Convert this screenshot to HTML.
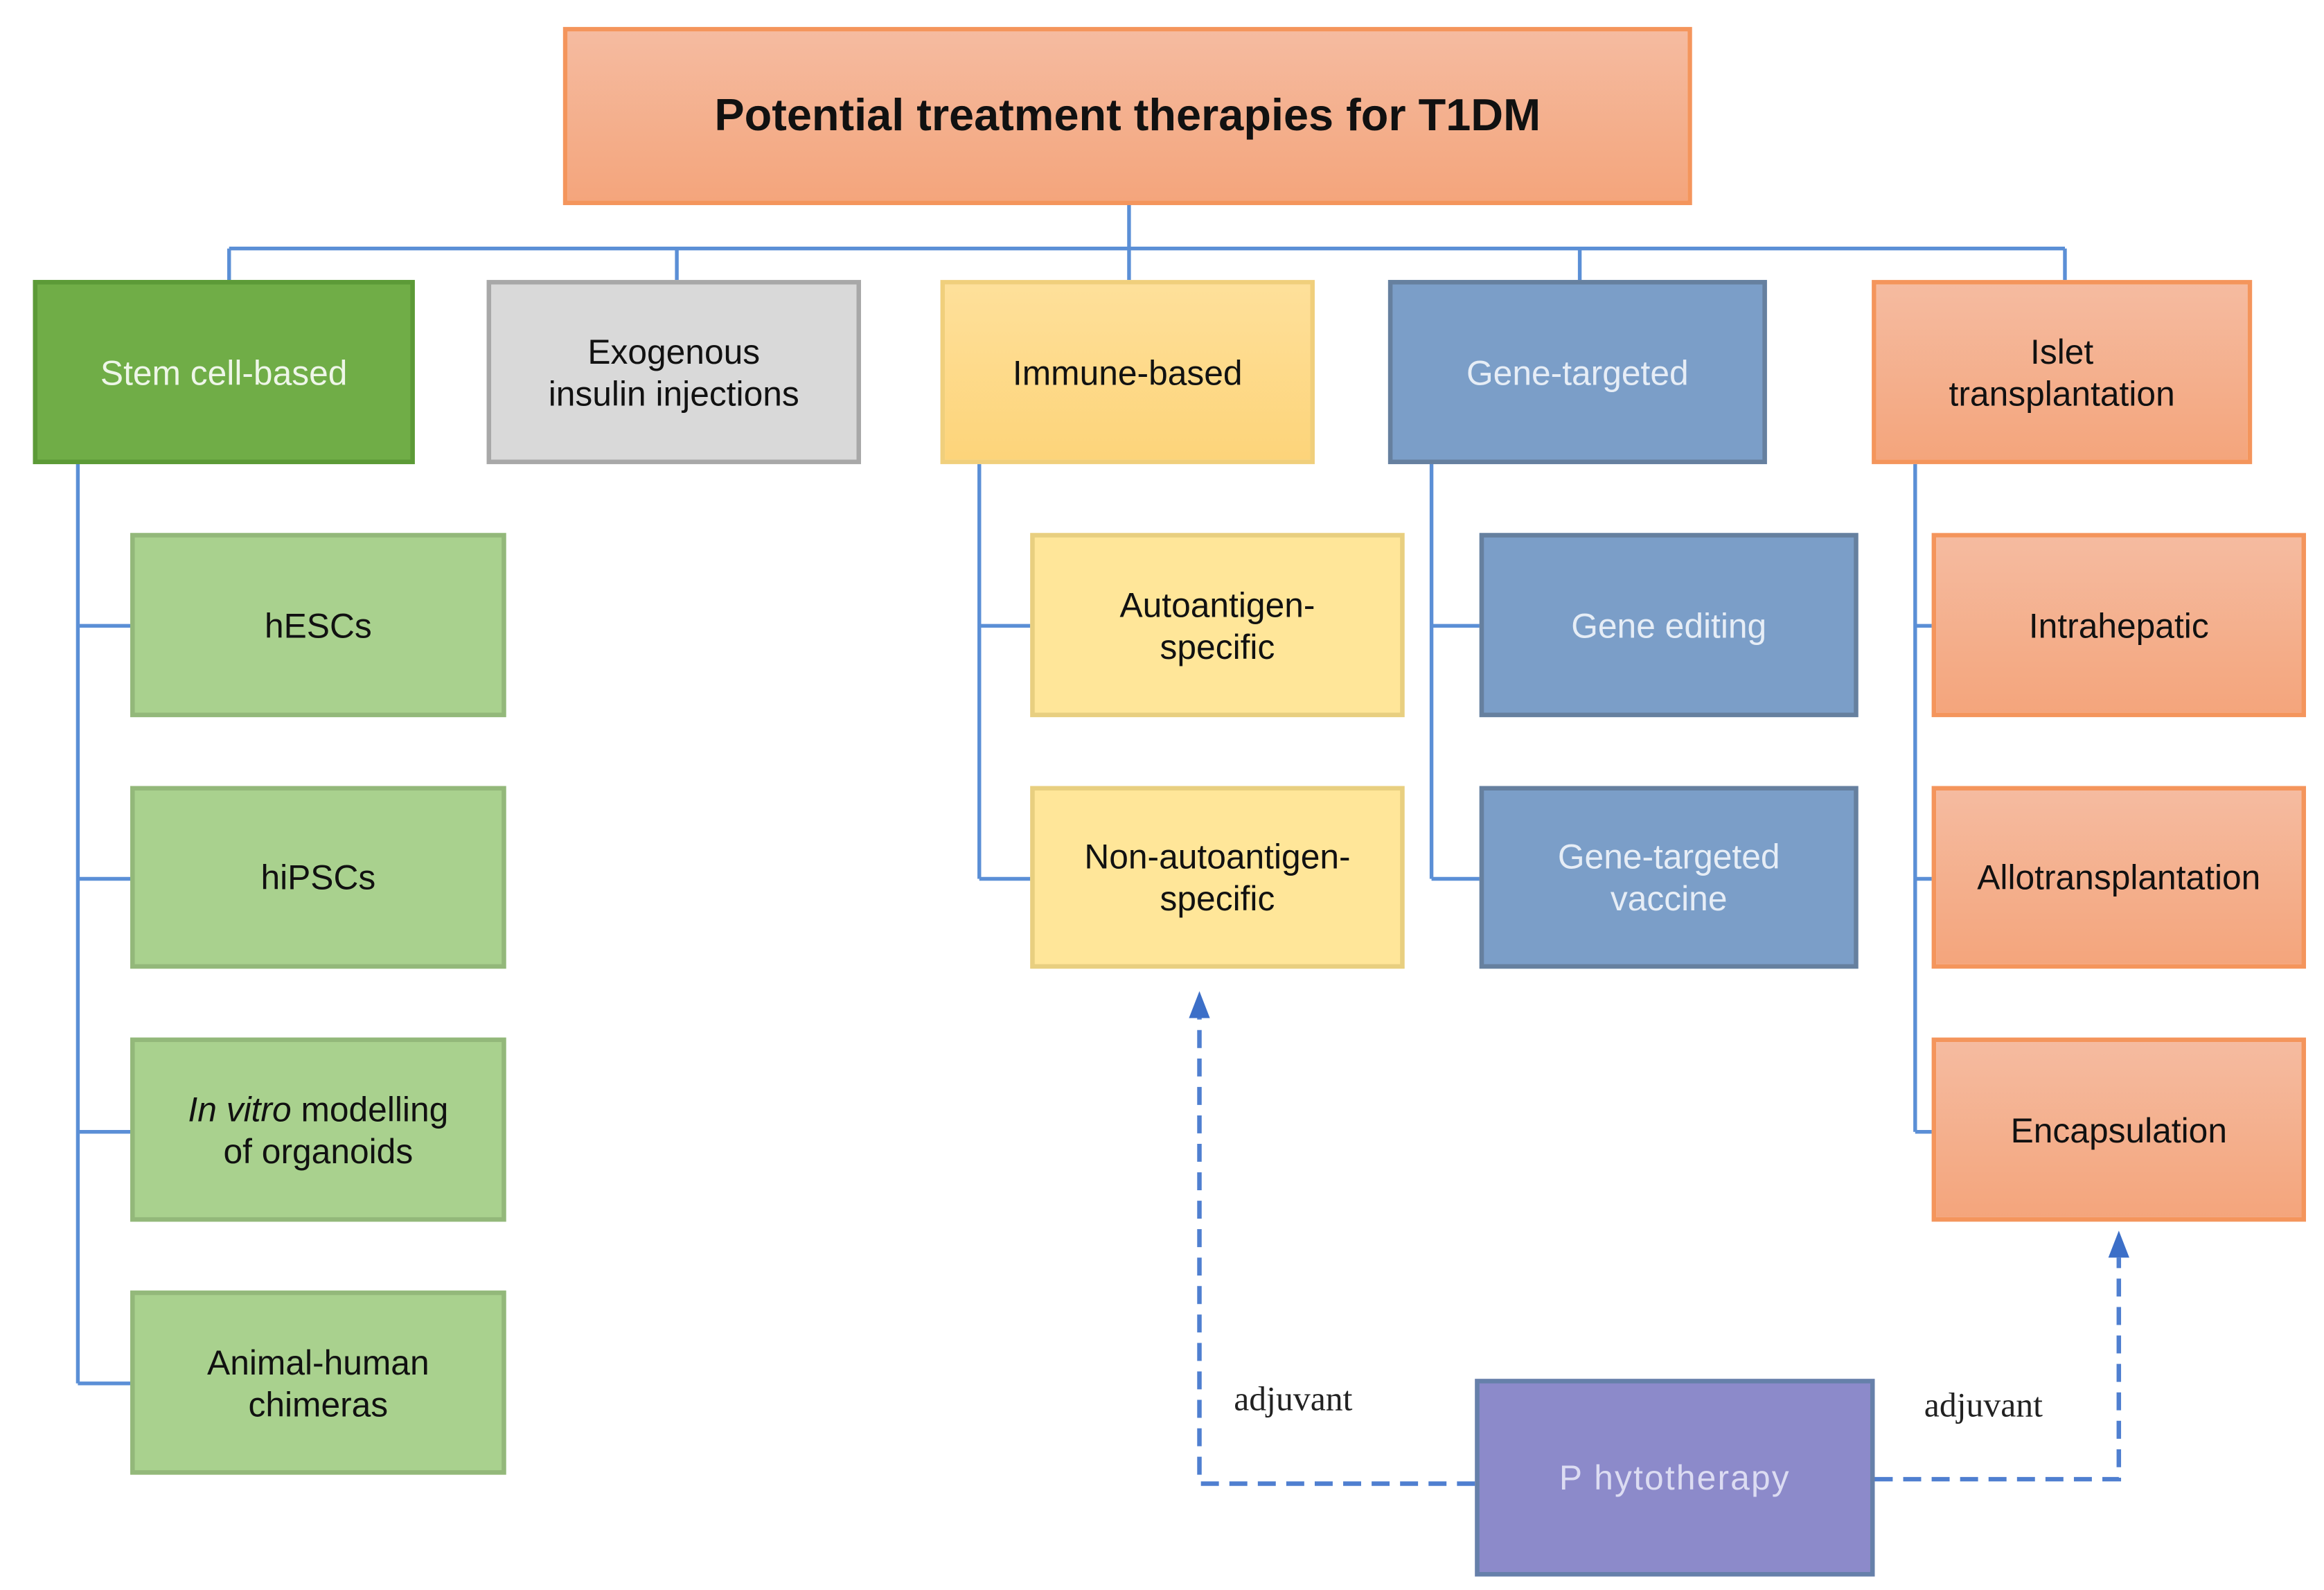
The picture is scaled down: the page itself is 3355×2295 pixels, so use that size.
<!DOCTYPE html>
<html><head><meta charset="utf-8"><style>
html,body{margin:0;padding:0;background:#fff;}
body{width:3355px;height:2295px;overflow:hidden;position:relative;}
#c{position:absolute;left:0;top:0;width:1552px;height:1062px;transform:scale(2.1617,2.161);transform-origin:0 0;font-family:"Liberation Sans",sans-serif;}
.b{position:absolute;box-sizing:border-box;display:flex;align-items:center;justify-content:center;text-align:center;font-size:23px;line-height:28px;color:#111;}
.g1{background:#70ad47;border:3px solid #5c9a37;color:#eef6e8;}
.gr{background:#d9d9d9;border:3px solid #a8a8a8;}
.y1{background:linear-gradient(#fee09a,#fdd47a);border:3px solid #f0cf7c;}
.bl{background:#7b9ec8;border:3px solid #66809f;color:#e6edf6;}
.or{background:linear-gradient(#f5bba0,#f4a57c);border:3px solid #f4955c;}
.g2{background:#a9d18e;border:3px solid #93b87a;}
.y2{background:#ffe699;border:3px solid #e8cf80;}
.pu{background:#8c8aca;border:3px solid #6680aa;color:#dcdcf2;letter-spacing:1px;}
.lab{position:absolute;font-family:"Liberation Serif",serif;font-size:23px;color:#222;}
</style></head><body><div id="c">
<svg width="1552" height="1062" style="position:absolute;left:0;top:0">
<g stroke="#5b8fd6" stroke-width="2.5" fill="none">
<path d="M754 137V187M153 166H1379M153 166V187M452 166V187M1055 166V187M1379 166V187"/>
<path d="M52 310V924M52 418H87M52 587H87M52 756H87M52 924H87"/>
<path d="M654 310V587M654 418H688M654 587H688"/>
<path d="M956 310V587M956 418H988M956 587H988"/>
<path d="M1279 310V756M1279 418H1290M1279 587H1290M1279 756H1290"/>
</g>
<g stroke="#4f7fd0" stroke-width="3" fill="none" stroke-dasharray="12 7">
<path d="M985 991H801V680"/>
<path d="M1252 988H1415V840"/>
</g>
<path d="M801 662L794 680H808Z" fill="#3c6fc8"/>
<path d="M1415 822L1408 840H1422Z" fill="#3c6fc8"/>
</svg>
<div class="b or" style="left:376px;top:18px;width:754px;height:119px;font-weight:bold;font-size:30px;">Potential treatment therapies for T1DM</div>
<div class="b g1" style="left:22px;top:187px;width:255px;height:123px;">Stem cell-based</div>
<div class="b gr" style="left:325px;top:187px;width:250px;height:123px;">Exogenous<br>insulin injections</div>
<div class="b y1" style="left:628px;top:187px;width:250px;height:123px;">Immune-based</div>
<div class="b bl" style="left:927px;top:187px;width:253px;height:123px;">Gene-targeted</div>
<div class="b or" style="left:1250px;top:187px;width:254px;height:123px;">Islet<br>transplantation</div>

<div class="b g2" style="left:87px;top:356px;width:251px;height:123px;">hESCs</div>
<div class="b g2" style="left:87px;top:525px;width:251px;height:122px;">hiPSCs</div>
<div class="b g2" style="left:87px;top:693px;width:251px;height:123px;"><span><i>In vitro</i> modelling<br>of organoids</span></div>
<div class="b g2" style="left:87px;top:862px;width:251px;height:123px;">Animal-human<br>chimeras</div>

<div class="b y2" style="left:688px;top:356px;width:250px;height:123px;">Autoantigen-<br>specific</div>
<div class="b y2" style="left:688px;top:525px;width:250px;height:122px;">Non-autoantigen-<br>specific</div>

<div class="b bl" style="left:988px;top:356px;width:253px;height:123px;">Gene editing</div>
<div class="b bl" style="left:988px;top:525px;width:253px;height:122px;">Gene-targeted<br>vaccine</div>

<div class="b or" style="left:1290px;top:356px;width:250px;height:123px;">Intrahepatic</div>
<div class="b or" style="left:1290px;top:525px;width:250px;height:122px;">Allotransplantation</div>
<div class="b or" style="left:1290px;top:693px;width:250px;height:123px;">Encapsulation</div>

<div class="b pu" style="left:985px;top:921px;width:267px;height:132px;">P hytotherapy</div>
<div class="lab" style="left:824px;top:922px;">adjuvant</div>
<div class="lab" style="left:1285px;top:926px;">adjuvant</div>
</div></body></html>
